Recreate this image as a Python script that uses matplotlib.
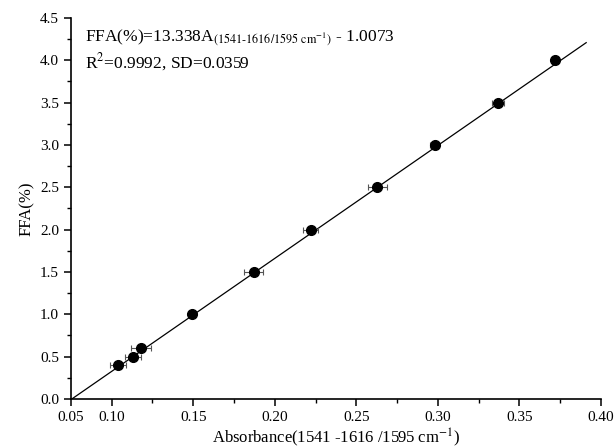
import numpy as np
import matplotlib
matplotlib.use("Agg")
import matplotlib.pyplot as plt

plt.rcParams['font.family'] = ['Liberation Serif', 'DejaVu Serif']
plt.rcParams['mathtext.fontset'] = 'stix'

# data
absorb = [0.104, 0.113, 0.118, 0.149, 0.187, 0.222, 0.263, 0.298, 0.337, 0.372]
ffa = [0.4, 0.5, 0.6, 1.0, 1.5, 2.0, 2.5, 3.0, 3.5, 4.0]
absorb_err = [0.005, 0.005, 0.006, 0.001, 0.006, 0.0045, 0.006, 0.003, 0.0035, 0.001]

slope = 13.338
intercept = -1.0073
fit_x = [1.0073 / 13.338, 0.391]

xtick_pos = [0.075, 0.10, 0.15, 0.20, 0.25, 0.30, 0.35, 0.40]
xtick_lab = ['0.05', '0.10', '0.15', '0.20', '0.25', '0.30', '0.35', '0.40']
ytick_pos = [0.0, 0.5, 1.0, 1.5, 2.0, 2.5, 3.0, 3.5, 4.0, 4.5]

fig = plt.figure(figsize=(6.15, 4.48), dpi=100)
ax = fig.add_axes([0.1154, 0.1094, 0.8616, 0.8506])

fx = np.array(fit_x)
ax.plot(fx, slope * fx + intercept, color='black', lw=0.9, zorder=2)
ax.errorbar(absorb, ffa, xerr=absorb_err, fmt='none', ecolor='#555555',
            elinewidth=0.8, capsize=2.5, capthick=0.8, zorder=3)
ax.plot(absorb, ffa, 'o', color='black', markersize=7, zorder=4)

ax.set_xlim(0.075, 0.40)
ax.set_ylim(0, 4.5)
ax.set_xticks(xtick_pos)
ax.set_xticklabels(xtick_lab)
ax.set_xticks([0.125, 0.175, 0.225, 0.275, 0.325, 0.375], minor=True)
ax.set_yticks(ytick_pos)
ax.set_yticklabels(['%.1f' % v for v in ytick_pos])
ax.set_yticks([0.25, 0.75, 1.25, 1.75, 2.25, 2.75, 3.25, 3.75, 4.25], minor=True)

for s in ['top', 'right']:
    ax.spines[s].set_visible(False)
for s in ['left', 'bottom']:
    ax.spines[s].set_linewidth(1.2)
ax.tick_params(which='major', direction='out', length=5, width=1.1, labelsize=11)
ax.tick_params(which='minor', direction='out', length=3, width=1.0)

ax.set_xlabel(r'Absorbance(1541 -1616 /1595 cm$^{-1}$)', fontsize=12, labelpad=2)
ax.set_ylabel('FFA(%)', fontsize=12)

ax.text(0.0838, 4.26, r'FFA(%)=13.338A$_{\rm (1541\text{-}1616/1595\ cm^{-1})}$ - 1.0073',
        fontsize=12.5, va='center')
ax.text(0.0838, 3.98, r'R$^2$=0.9992, SD=0.0359', fontsize=12.5, va='center')

fig.savefig('out.png', dpi=100)
